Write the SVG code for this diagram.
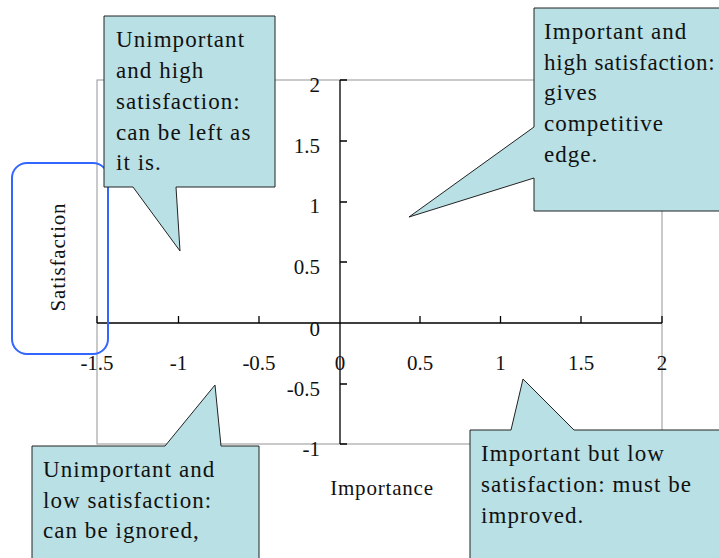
<svg xmlns="http://www.w3.org/2000/svg" width="719" height="558" viewBox="0 0 719 558">
<style>
.frame{fill:none;stroke:#a6a6a6;stroke-width:1.2}
.axis{fill:none;stroke:#000;stroke-width:1.3}
.tick{font-size:21px;fill:#111}
.callout{fill:#b9e0e4;stroke:#222;stroke-width:1}
.ct{font-size:23px;fill:#111;letter-spacing:1.05px}
.title{font-size:21px;fill:#111;letter-spacing:0.8px}
</style>
<rect width="719" height="558" fill="#fff"/>
<g id="chart" font-family="Liberation Serif, Times New Roman, serif">
  <rect class="frame" x="97" y="80" width="565" height="364"/>
  <path class="axis" d="M97,323 H662 M340,80 V444"/>
  <path class="axis" d="M97,323 V316 M178.5,323 V316 M259,323 V316 M420,323 V316 M500.5,323 V316 M581,323 V316 M662,323 V316"/>
  <path class="axis" d="M340,80 H347 M340,141 H347 M340,202 H347 M340,262 H347 M340,384 H347 M340,444 H347"/>
  <g class="tick" text-anchor="middle">
    <text x="97" y="370">-1.5</text>
    <text x="178.5" y="370">-1</text>
    <text x="259" y="370">-0.5</text>
    <text x="340" y="370">0</text>
    <text x="420" y="370">0.5</text>
    <text x="500.5" y="370">1</text>
    <text x="581" y="370">1.5</text>
    <text x="662" y="370">2</text>
  </g>
  <g class="tick" text-anchor="end">
    <text x="320" y="92">2</text>
    <text x="320" y="153">1.5</text>
    <text x="320" y="213">1</text>
    <text x="320" y="274">0.5</text>
    <text x="320" y="336">0</text>
    <text x="320" y="396">-0.5</text>
    <text x="320" y="456">-1</text>
  </g>
  <text id="x-title" class="title" x="382" y="495" text-anchor="middle">Importance</text>
</g>
<g id="y-title" font-family="Liberation Serif, Times New Roman, serif">
  <rect x="12" y="163" width="96" height="191" rx="15" ry="15" fill="none" stroke="#3366ff" stroke-width="2"/>
  <text class="title" x="0" y="0" text-anchor="middle" font-size="22" transform="translate(65,257) rotate(-90)">Satisfaction</text>
</g>
<g id="callout-unimportant-high" font-family="Liberation Serif, Times New Roman, serif">
  <path class="callout" d="M104,16 H275 V187 H176 L180,251 L133,187 H104 Z"/>
  <text class="ct" x="116" y="47">Unimportant</text>
  <text class="ct" x="116" y="78">and high</text>
  <text class="ct" x="116" y="109">satisfaction:</text>
  <text class="ct" x="116" y="140">can be left as</text>
  <text class="ct" x="116" y="170">it is.</text>
</g>
<g id="callout-important-high" font-family="Liberation Serif, Times New Roman, serif">
  <path class="callout" d="M534,8 H726 V211 H534 V178 L409,217 L534,127 Z"/>
  <text class="ct" x="544" y="39">Important and</text>
  <text class="ct" x="544" y="70" style="letter-spacing:0.75px">high satisfaction:</text>
  <text class="ct" x="544" y="100">gives</text>
  <text class="ct" x="544" y="131">competitive</text>
  <text class="ct" x="544" y="162">edge.</text>
</g>
<g id="callout-unimportant-low" font-family="Liberation Serif, Times New Roman, serif">
  <path class="callout" d="M32,446 H165 L215,385 L221,446 H259 V565 H32 Z"/>
  <text class="ct" x="43" y="477">Unimportant and</text>
  <text class="ct" x="43" y="508">low satisfaction:</text>
  <text class="ct" x="43" y="538">can be ignored,</text>
</g>
<g id="callout-important-low" font-family="Liberation Serif, Times New Roman, serif">
  <path class="callout" d="M470,430 H511 L523,379 L574,430 H726 V565 H470 Z"/>
  <text class="ct" x="481" y="461">Important but low</text>
  <text class="ct" x="481" y="492">satisfaction: must be</text>
  <text class="ct" x="481" y="523">improved.</text>
</g>
<g id="connectors"></g>
</svg>
